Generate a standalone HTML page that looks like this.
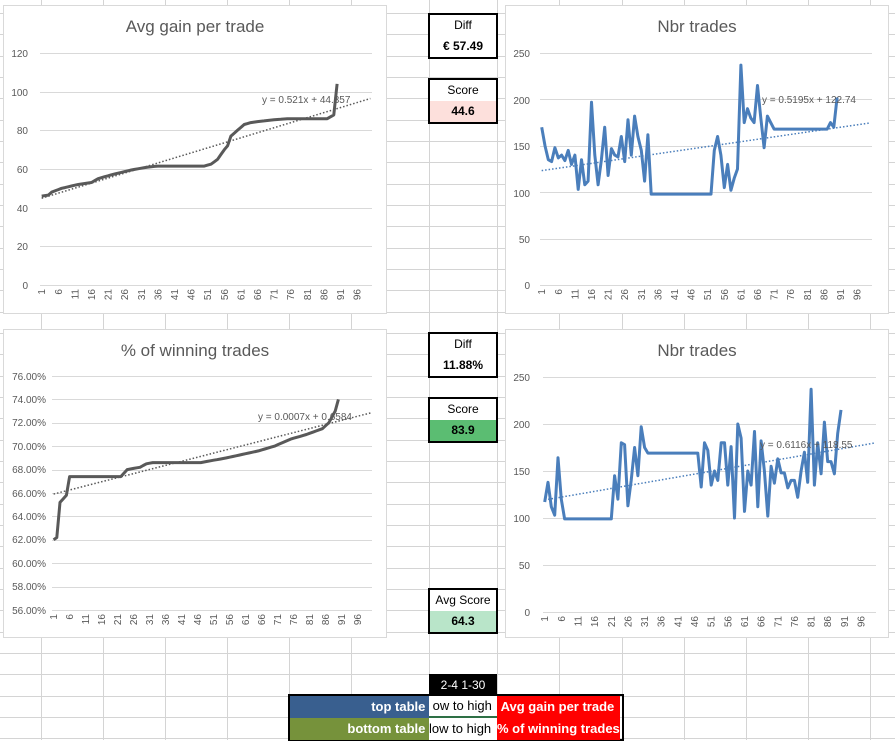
<!DOCTYPE html>
<html><head><meta charset="utf-8"><style>
body{margin:0;width:895px;height:740px;overflow:hidden;background:#fff;font-family:"Liberation Sans",sans-serif;position:relative}
svg{position:absolute;left:0;top:0}
.box{position:absolute;left:428px;width:66px;border:2px solid #000;background:#fff;font-size:12px;text-align:center}
.box div{height:21px;line-height:21px}
.box .b{font-weight:bold}
.t{font-size:10px;fill:#595959}
.ti{font-size:17px;fill:#595959;text-anchor:middle}
.cell{position:absolute;height:22px;line-height:22px;font-size:13px;font-weight:bold;color:#fff;white-space:nowrap;overflow:hidden}
</style></head><body>
<svg id="grid" width="895" height="740"></svg>
<svg width="895" height="740" id="ch">
<g fill="#fff" stroke="#d9d9d9"><rect x="3.5" y="5.5" width="383" height="308"/><rect x="505.5" y="5.5" width="383" height="308"/><rect x="3.5" y="329.5" width="383" height="308"/><rect x="505.5" y="329.5" width="383" height="308"/></g>
<g id="gl" stroke="#d9d9d9"></g>
<text class="ti" x="195" y="32">Avg gain per trade</text>
<text class="ti" x="697" y="32">Nbr trades</text>
<text class="ti" x="195" y="356">% of winning trades</text>
<text class="ti" x="697" y="356">Nbr trades</text>
<g class="t" text-anchor="end">
<text x="28" y="57">120</text><text x="28" y="96">100</text><text x="28" y="134">80</text><text x="28" y="173">60</text><text x="28" y="212">40</text><text x="28" y="250">20</text><text x="28" y="289">0</text>
<text x="530" y="57">250</text><text x="530" y="104">200</text><text x="530" y="150">150</text><text x="530" y="197">100</text><text x="530" y="243">50</text><text x="530" y="289">0</text>
<text x="46" y="380">76.00%</text><text x="46" y="403">74.00%</text><text x="46" y="426">72.00%</text><text x="46" y="450">70.00%</text><text x="46" y="473">68.00%</text><text x="46" y="497">66.00%</text><text x="46" y="520">64.00%</text><text x="46" y="543">62.00%</text><text x="46" y="567">60.00%</text><text x="46" y="590">58.00%</text><text x="46" y="614">56.00%</text>
<text x="530" y="381">250</text><text x="530" y="428">200</text><text x="530" y="475">150</text><text x="530" y="522">100</text><text x="530" y="569">50</text><text x="530" y="616">0</text>
</g>
<g class="t" id="xl1"><text>1</text><text>6</text><text>11</text><text>16</text><text>21</text><text>26</text><text>31</text><text>36</text><text>41</text><text>46</text><text>51</text><text>56</text><text>61</text><text>66</text><text>71</text><text>76</text><text>81</text><text>86</text><text>91</text><text>96</text></g>
<g class="t" id="xl2"><text>1</text><text>6</text><text>11</text><text>16</text><text>21</text><text>26</text><text>31</text><text>36</text><text>41</text><text>46</text><text>51</text><text>56</text><text>61</text><text>66</text><text>71</text><text>76</text><text>81</text><text>86</text><text>91</text><text>96</text></g>
<g class="t" id="xl3"><text>1</text><text>6</text><text>11</text><text>16</text><text>21</text><text>26</text><text>31</text><text>36</text><text>41</text><text>46</text><text>51</text><text>56</text><text>61</text><text>66</text><text>71</text><text>76</text><text>81</text><text>86</text><text>91</text><text>96</text></g>
<g class="t" id="xl4"><text>1</text><text>6</text><text>11</text><text>16</text><text>21</text><text>26</text><text>31</text><text>36</text><text>41</text><text>46</text><text>51</text><text>56</text><text>61</text><text>66</text><text>71</text><text>76</text><text>81</text><text>86</text><text>91</text><text>96</text></g>
<g id="ser" fill="none" stroke-linejoin="round"></g>
<g class="t"><text x="262" y="103">y = 0.521x + 44.357</text><text x="762" y="103">y = 0.5195x + 122.74</text><text x="258" y="420">y = 0.0007x + 0.6584</text><text x="760" y="448">y = 0.6116x + 118.55</text></g>
</svg>
<div class="box" style="top:13px"><div>Diff</div><div class="b">€ 57.49</div></div>
<div class="box" style="top:78px"><div>Score</div><div class="b" style="background:#fde0dc">44.6</div></div>
<div class="box" style="top:332px"><div>Diff</div><div class="b">11.88%</div></div>
<div class="box" style="top:397px"><div>Score</div><div class="b" style="background:#5bbd72">83.9</div></div>
<div class="box" style="top:588px"><div>Avg Score</div><div class="b" style="background:#b9e5c9">64.3</div></div>
<div class="cell" style="left:429px;top:674px;width:68px;background:#000;font-weight:normal;text-align:center;font-size:12px">2-4 1-30</div>
<div style="position:absolute;left:288px;top:694px;width:332px;height:43px;border:2px solid #000"></div>
<div class="cell" style="left:290px;top:696px;width:139px;background:#395f8f;text-align:right">top table&nbsp;</div>
<div class="cell" style="left:429px;top:696px;width:68px;background:#fff;color:#000;font-weight:normal;border-bottom:2px solid #2e7045;box-sizing:border-box;height:22px;line-height:20px">&nbsp;ow to high</div>
<div class="cell" style="left:497px;top:696px;width:123px;background:#f00">&nbsp;Avg gain per trade</div>
<div class="cell" style="left:290px;top:718px;width:139px;background:#76923b;text-align:right">bottom table&nbsp;</div>
<div class="cell" style="left:429px;top:718px;width:68px;background:#fff;color:#000;font-weight:normal">low to high</div>
<div class="cell" style="left:497px;top:718px;width:123px;background:#f00">% of winning trades</div>
<script>
var NS="http://www.w3.org/2000/svg";
function el(p,t,a){var e=document.createElementNS(NS,t);for(var k in a)e.setAttribute(k,a[k]);p.appendChild(e);return e;}
var g=document.getElementById("grid");
[41,103,165,227,289,351,429,497,559,622,684,746,808,870].forEach(function(x){el(g,"line",{x1:x+.5,x2:x+.5,y1:0,y2:740,stroke:"#d4d4d4"})});
for(var k=0;k<35;k++){var y=Math.round(13+21.33*k)+.5;el(g,"line",{x1:0,x2:895,y1:y,y2:y,stroke:"#d4d4d4"})}
function interp(pts){var out=[];for(var i=1;i<=90;i++){for(var j=0;j<pts.length-1;j++){if(i>=pts[j][0]&&i<=pts[j+1][0]){var a=pts[j],b=pts[j+1];out.push(a[1]+(b[1]-a[1])*(i-a[0])/((b[0]-a[0])||1));break;}}}return out;}
var C=[
{x0:40,w:332,y0:285,sc:232/120,vmin:0,grid:[0,20,40,60,80,100,120],col:"#595959",
 d:interp([[1,46],[3,46.5],[4,48],[7,50],[12,52],[16,53],[18,55],[22,57],[28,59.5],[33,61],[36,61.5],[50,61.5],[52,62.5],[54,65],[56,70],[57,72],[58,77],[60,80],[62,83],[64,84],[66,84.5],[70,85.3],[75,86],[87,86],[89,88],[90,104]]),tr:[0.521,44.357],xl:"xl1"},
{x0:540,w:332,y0:285,sc:232/250,vmin:0,grid:[0,50,100,150,200,250],col:"#4a7ebb",
 d:[170,150,135,133,148,137,140,134,145,130,140,103,135,108,112,197,140,108,135,170,118,147,140,138,160,133,178,140,182,160,145,112,162,98,98,98,98,98,98,98,98,98,98,98,98,98,98,98,98,98,98,98,145,160,140,105,130,102,115,125,237,175,190,180,175,215,180,148,182,175,168,168,168,168,168,168,168,168,168,168,168,168,168,168,168,168,168,175,170,202],tr:[0.5195,122.74],xl:"xl2"},
{x0:52,w:320,y0:610,sc:1170,vmin:0.56,grid:[.56,.58,.60,.62,.64,.66,.68,.70,.72,.74,.76],col:"#595959",
 d:interp([[1,62],[2,62.2],[3,65.2],[5,65.8],[6,67.4],[22,67.4],[24,68],[28,68.2],[30,68.5],[32,68.6],[47,68.6],[55,69],[60,69.3],[65,69.6],[70,70],[75,70.6],[80,71],[85,71.5],[87,72],[88,72.5],[89,73],[90,74]]).map(function(v){return v/100}),tr:[0.0007,0.6584],xl:"xl3"},
{x0:543,w:333,y0:612,sc:235/250,vmin:0,grid:[0,50,100,150,200,250],col:"#4a7ebb",
 d:[117,138,112,103,164,120,99,99,99,99,99,99,99,99,99,99,99,99,99,99,99,145,120,180,178,113,140,175,145,197,175,169,169,169,169,169,169,169,169,169,169,169,169,169,169,169,169,133,180,172,135,150,140,180,180,135,176,100,200,185,107,150,135,192,112,182,150,102,155,137,163,148,148,132,140,140,122,150,170,138,237,135,180,147,202,160,160,147,190,215],tr:[0.6116,118.55],xl:"xl4"}];
var gl=document.getElementById("gl"),ser=document.getElementById("ser");
C.forEach(function(c){
 var n=100,cw=c.w/n;
 function Y(v){return c.y0-(v-c.vmin)*c.sc}
 function X(i){return c.x0+(i-0.5)*cw}
 c.grid.forEach(function(v){var y=Math.round(Y(v))+.5;el(gl,"line",{x1:c.x0,x2:c.x0+c.w,y1:y,y2:y})});
 var lbl=document.getElementById(c.xl).children;
 for(var k=0;k<lbl.length;k++){var x=X(1+5*k)+3.5,y=c.y0+4;lbl[k].setAttribute("transform","translate("+x+","+y+") rotate(-90)");lbl[k].setAttribute("text-anchor","end")}
 var a=c.tr;
 el(ser,"line",{x1:X(1),y1:Y(a[0]*1+a[1]),x2:X(100),y2:Y(a[0]*100+a[1]),stroke:c.col,"stroke-width":1.5,"stroke-dasharray":"1.5 2"});
 el(ser,"polyline",{points:c.d.map(function(v,i){return X(i+1).toFixed(1)+","+Y(v).toFixed(1)}).join(" "),stroke:c.col,"stroke-width":3});
});
</script>
</body></html>
